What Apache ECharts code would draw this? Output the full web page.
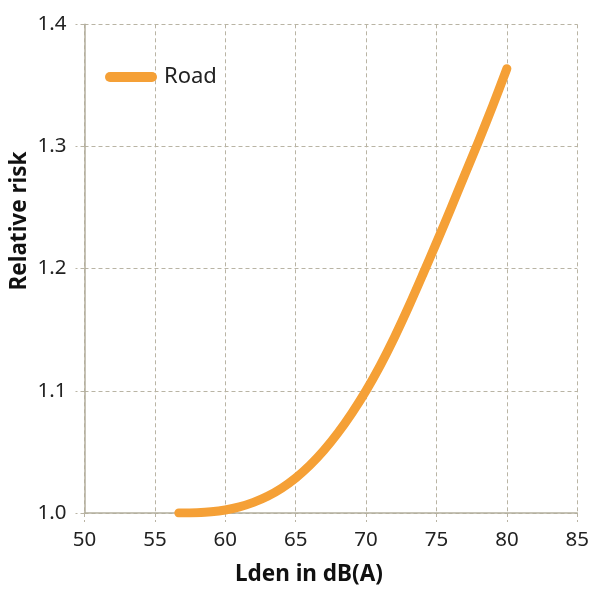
<!DOCTYPE html>
<html>
<head>
<meta charset="utf-8">
<script src="https://cdn.jsdelivr.net/npm/echarts@6/dist/echarts.min.js"></script>
<style>
html,body{margin:0;padding:0;background:#fff;}
#chart{width:592px;height:591px;}
</style>
</head>
<body>
<div id="chart"></div>
<script>
const seriesName = 'Road';
const lden = [56.7, 58, 59, 60, 61, 62, 63, 64, 65, 66, 67, 68, 69, 70, 71, 72, 73, 74, 75, 76, 77, 78, 79, 80];
const relativeRisk = [1.000, 1.0003, 1.001, 1.0025, 1.005, 1.0087, 1.0137, 1.0203, 1.0287, 1.039, 1.0513, 1.0656, 1.0819, 1.1002, 1.1207, 1.1435, 1.1683, 1.1945, 1.2213, 1.2487, 1.2767, 1.3045, 1.3335, 1.3637];
const xTicks = [50, 55, 60, 65, 70, 75, 80, 85];
const yTicks = [1.0, 1.1, 1.2, 1.3, 1.4];
const xTitle = 'Lden in dB(A)';
const yTitle = 'Relative risk';

const FONT = '"Noto Sans", sans-serif';
const AXIS = '#b3ae9d';
const GRID = '#b9b4a4';
const ORANGE = '#f5a036';

const chart = echarts.init(document.getElementById('chart'), null, {renderer: 'canvas'});
chart.setOption({
  animation: false,
  backgroundColor: '#fff',
  grid: {left: 84.5, right: 13.3, top: 24.3, bottom: 75, containLabel: false},
  legend: {
    left: 100, top: 61,
    itemWidth: 52, itemHeight: 10, itemGap: 10,
    icon: 'path://M5,0 L47,0 A5,5 0 0 1 47,10 L5,10 A5,5 0 0 1 5,0 Z',
    textStyle: {fontFamily: FONT, fontSize: 22, color: '#222', padding: [0, 0, 0, 2]},
    data: [seriesName]
  },
  xAxis: {
    type: 'value',
    min: xTicks[0], max: xTicks[xTicks.length - 1], interval: 5,
    name: xTitle, nameLocation: 'middle', nameGap: 50,
    nameTextStyle: {fontFamily: FONT, fontSize: 22.5, fontWeight: 'bold', color: '#111',
      padding: [0, 44, 0, 0]},
    axisLine: {show: true, onZero: false, lineStyle: {color: AXIS, width: 1.5}},
    axisTick: {show: true, length: 9, inside: false, lineStyle: {color: GRID, type: [4, 3]}},
    axisLabel: {fontFamily: FONT, fontSize: 20.5, color: '#222', margin: 17},
    splitLine: {show: true, lineStyle: {color: GRID, type: [4, 3], width: 1}}
  },
  yAxis: {
    type: 'value',
    min: yTicks[0], max: yTicks[yTicks.length - 1], interval: 0.1,
    axisLine: {show: true, onZero: false, lineStyle: {color: AXIS, width: 1.5}},
    axisTick: {show: true, length: 9, inside: false, lineStyle: {color: GRID, type: [4, 3]}},
    axisLabel: {fontFamily: FONT, fontSize: 20.5, color: '#222', margin: 18,
      formatter: v => v.toFixed(1)},
    splitLine: {show: true, lineStyle: {color: GRID, type: [4, 3], width: 1}}
  },
  graphic: [{
    type: 'text', x: 20, y: 221, rotation: Math.PI / 2,
    style: {text: yTitle, fontFamily: FONT, fontSize: 22.5, fontWeight: 'bold', fill: '#111',
      align: 'center', verticalAlign: 'middle'}
  }],
  series: [{
    name: seriesName,
    type: 'line',
    smooth: 0.3,
    showSymbol: false,
    symbol: 'none',
    color: ORANGE,
    lineStyle: {color: ORANGE, width: 9, cap: 'round', join: 'round'},
    data: lden.map((x, i) => [x, relativeRisk[i]])
  }]
});
</script>
</body>
</html>
